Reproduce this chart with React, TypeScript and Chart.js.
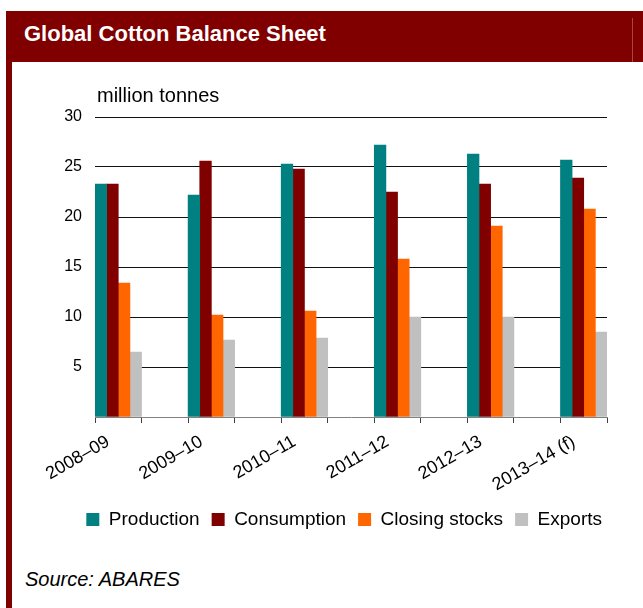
import React, { useEffect, useRef } from 'react';
import { Chart, registerables } from 'chart.js';

Chart.register(...registerables);

const seasons = ['2008–09', '2009–10', '2010–11', '2011–12', '2012–13', '2013–14 (f)'];
const production = [23.3, 22.2, 25.3, 27.2, 26.3, 25.7];
const consumption = [23.3, 25.6, 24.8, 22.5, 23.3, 23.9];
const closingStocks = [13.4, 10.2, 10.6, 15.8, 19.1, 20.8];
const exportsData = [6.5, 7.7, 7.9, 10.0, 10.0, 8.5];
const seriesNames = ['Production', 'Consumption', 'Closing stocks', 'Exports'];
const seriesColors = ['#008080', '#800000', '#FF6600', '#C0C0C0'];
const yMin = 0;
const yMax = 30;
const yStep = 5;

const FONT = '"Liberation Sans", Arial, Helvetica, sans-serif';

// Put an empty slot between seasons (the source chart leaves a gap category after each group)
function spread<T>(arr: T[], gap: T): T[] {
  const out: T[] = [];
  arr.forEach((v, i) => {
    out.push(v);
    if (i < arr.length - 1) out.push(gap);
  });
  return out;
}

const legendShift = {
  id: 'legendShift',
  afterLayout(chart: any) {
    if (chart.legend) {
      chart.legend.left += 7;
      chart.legend.right += 7;
    }
  },
};

export default function App() {
  const canvasRef = useRef<HTMLCanvasElement | null>(null);

  useEffect(() => {
    const canvas = canvasRef.current;
    if (!canvas) return;
    const values = [production, consumption, closingStocks, exportsData];
    const chart = new Chart(canvas, {
      type: 'bar',
      data: {
        labels: spread<string>(seasons, ''),
        datasets: values.map((vals, i) => ({
          label: seriesNames[i],
          data: spread<number | null>(vals, null),
          backgroundColor: seriesColors[i],
          borderWidth: 0,
        })),
      },
      options: {
        responsive: false,
        animation: false,
        devicePixelRatio: 1,
        layout: { padding: { top: 55, right: 36, bottom: 13, left: 0 } },
        datasets: { bar: { barPercentage: 1, categoryPercentage: 1 } },
        plugins: {
          tooltip: { enabled: false },
          title: { display: false },
          legend: {
            position: 'bottom',
            align: 'end',
            labels: {
              boxWidth: 13,
              boxHeight: 13,
              padding: 12,
              color: '#000',
              font: { size: 19, family: FONT },
            },
          },
        },
        scales: {
          x: {
            offset: true,
            grid: {
              display: true,
              offset: true,
              drawOnChartArea: false,
              drawTicks: true,
              tickLength: 6,
              color: '#404040',
            },
            border: { display: true, color: '#808080', width: 1 },
            ticks: {
              autoSkip: false,
              minRotation: 30,
              maxRotation: 30,
              labelOffset: -10,
              padding: 8,
              color: '#000',
              font: { size: 18, family: FONT },
            },
            afterFit: (s: any) => {
              s.height = 81;
            },
          },
          y: {
            min: yMin,
            max: yMax,
            ticks: {
              stepSize: yStep,
              padding: 13,
              color: '#000',
              font: { size: 16, family: FONT },
              callback: (v: any) => (Number(v) === 0 ? '' : String(v)),
            },
            grid: {
              drawTicks: false,
              color: (ctx: any) => (ctx.tick && ctx.tick.value === 0 ? 'rgba(0,0,0,0)' : '#111'),
            },
            border: { display: false },
            afterFit: (s: any) => {
              s.width = 83;
            },
          },
        },
      },
      plugins: [legendShift],
    } as any);
    return () => chart.destroy();
  }, []);

  return (
    <div
      style={{
        position: 'absolute',
        left: 0,
        top: 0,
        width: 643,
        height: 608,
        overflow: 'hidden',
        background: '#fff',
        fontFamily: FONT,
      }}
    >
      <div style={{ position: 'absolute', left: 6, top: 11, width: 637, height: 51, background: '#800000' }} />
      <div style={{ position: 'absolute', left: 632, top: 18, width: 1, height: 44, background: '#A84444' }} />
      <div style={{ position: 'absolute', left: 6, top: 62, width: 6, height: 546, background: '#800000' }} />
      <div
        style={{
          position: 'absolute',
          left: 24,
          top: 23,
          fontSize: 22,
          lineHeight: '22px',
          fontWeight: 'bold',
          color: '#fff',
          whiteSpace: 'nowrap',
        }}
      >
        Global Cotton Balance Sheet
      </div>
      <canvas
        ref={canvasRef}
        width={631}
        height={490}
        style={{ position: 'absolute', left: 12, top: 62, width: 631, height: 490 }}
      />
      <div
        style={{
          position: 'absolute',
          left: 97,
          top: 85,
          fontSize: 20,
          lineHeight: '20px',
          color: '#000',
          whiteSpace: 'nowrap',
        }}
      >
        million tonnes
      </div>
      <div
        style={{
          position: 'absolute',
          left: 25,
          top: 569,
          fontSize: 20,
          lineHeight: '20px',
          fontStyle: 'italic',
          color: '#000',
          whiteSpace: 'nowrap',
        }}
      >
        Source: ABARES
      </div>
    </div>
  );
}
